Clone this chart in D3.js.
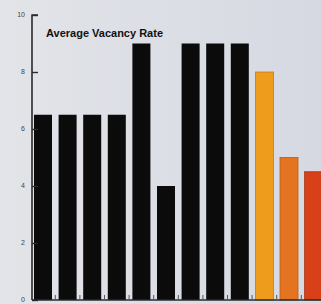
<!DOCTYPE html>
<html>
<head>
<meta charset="utf-8">
<script src="https://cdn.jsdelivr.net/npm/d3@7"></script>
<style>
  html, body { margin: 0; padding: 0; background: #dcdee4; }
  svg { display: block; }
</style>
</head>
<body>
<script>
const categories = ["1","2","3","4","5","6","7","8","9","10","11","12"];
const values = [6.5, 6.5, 6.5, 6.5, 9, 4, 9, 9, 9, 8, 5, 4.5];
const barColors = ["#0b0b0c","#0b0b0c","#0b0b0c","#0b0b0c","#0b0b0c","#0b0b0c","#0b0b0c","#0b0b0c","#0b0b0c","#ee9c1c","#e4741f","#d8401a"];
const yTicks = [0, 2, 4, 6, 8, 10];
const title = "Average Vacancy Rate";

const W = 321, H = 304;
const svg = d3.select("body").append("svg").attr("width", W).attr("height", H);

// background
const grad = svg.append("defs").append("linearGradient").attr("id","bg").attr("x1","0").attr("x2","1");
grad.append("stop").attr("offset","0").attr("stop-color","#e2e4e8");
grad.append("stop").attr("offset","1").attr("stop-color","#d6d9e2");
svg.append("rect").attr("width", W).attr("height", H).attr("fill", "url(#bg)");

const y = d3.scaleLinear().domain([0, 10]).range([300, 15]);
const x = d3.scaleBand().domain(categories).range([27.4, 329.2]).paddingInner(0.268).paddingOuter(0.268);

// bars
svg.append("g").selectAll("rect").data(values).join("rect")
  .attr("x", (d, i) => x(categories[i]))
  .attr("y", d => y(d))
  .attr("width", x.bandwidth())
  .attr("height", d => y(0) - y(d))
  .attr("fill", (d, i) => barColors[i])
  .attr("stroke", (d, i) => i >= 9 ? d3.color(barColors[i]).darker(0.6) : "none")
  .attr("stroke-width", 0.8);

// y axis
const yAxis = d3.axisRight(y).tickValues(yTicks).tickSize(6).tickFormat("");
const gy = svg.append("g").attr("transform", "translate(32,0)").call(yAxis);
gy.select(".domain").attr("stroke", "#2a2a2e").attr("stroke-width", 1.6)
  .attr("d", `M6,${y(10)}H0V${y(0)}`);
gy.selectAll(".tick line").attr("stroke", "#2a2a2e").attr("stroke-width", 1.4);

// tick labels
svg.append("g").selectAll("text").data(yTicks).join("text")
  .attr("x", 25)
  .attr("y", d => y(d))
  .attr("dy", "0.35em")
  .attr("text-anchor", "end")
  .attr("font-family", "Liberation Sans, Arial, sans-serif")
  .attr("font-size", 7)
  .attr("fill", "#444")
  .text(d => d);

// x axis baseline and ticks between bars
const step = x.step();
const boundaries = categories.map(c => x(c) + x.bandwidth() + (step - x.bandwidth()) / 2).filter(v => v < W);
svg.append("line").attr("x1", 32).attr("x2", W).attr("y1", y(0)).attr("y2", y(0))
  .attr("stroke", "#2a2a2e").attr("stroke-width", 1.4);
svg.append("g").selectAll("line").data(boundaries).join("line")
  .attr("x1", d => d).attr("x2", d => d)
  .attr("y1", y(0)).attr("y2", y(0) - 5)
  .attr("stroke", "#55575c").attr("stroke-width", 1);

// title
svg.append("text")
  .attr("x", 46).attr("y", 37)
  .attr("font-family", "Liberation Sans, Arial, sans-serif")
  .attr("font-weight", "bold")
  .attr("font-size", 11)
  .attr("fill", "#111")
  .text(title);
</script>
</body>
</html>
